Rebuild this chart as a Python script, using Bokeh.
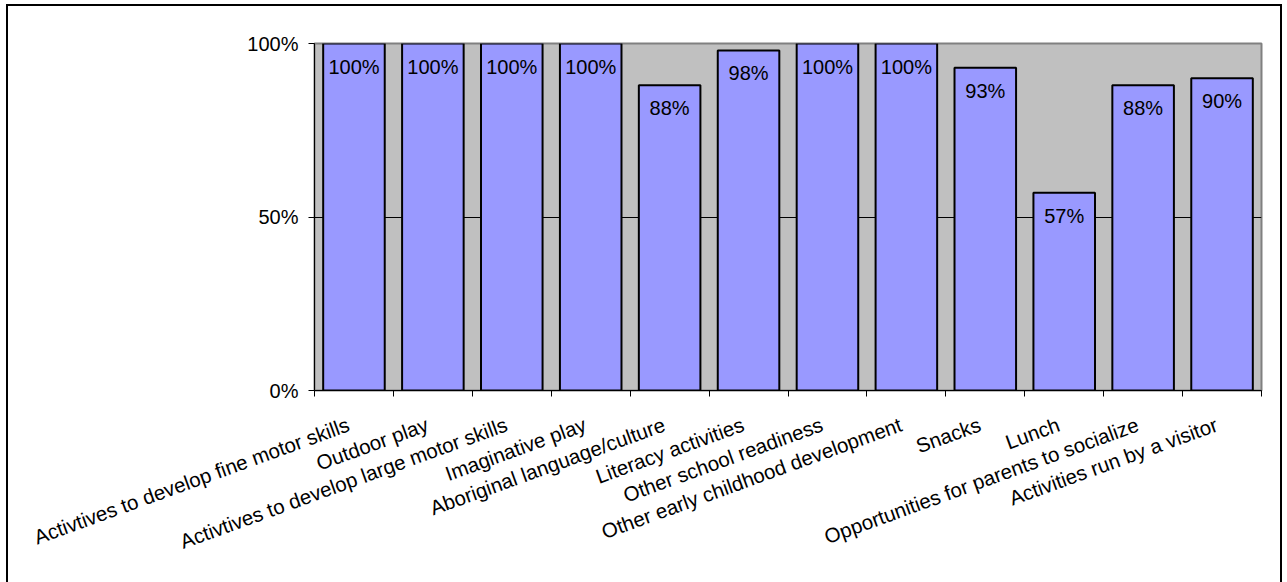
from bokeh.plotting import figure
from bokeh.layouts import column
from bokeh.models import FixedTicker, ColumnDataSource, Range1d
from bokeh.core.properties import value
from bokeh.embed import file_html
from bokeh.resources import INLINE
import math

# Share of playgroups offering each activity
categories = [
    "Activtives to develop fine motor skills",
    "Outdoor play",
    "Activtives to develop large motor skills",
    "Imaginative play",
    "Aboriginal language/culture",
    "Literacy activities",
    "Other school readiness",
    "Other early childhood development",
    "Snacks",
    "Lunch",
    "Opportunities for parents to socialize",
    "Activities run by a visitor",
]
percent = [100, 100, 100, 100, 88, 98, 100, 100, 93, 57, 88, 90]
y_ticks = [0, 50, 100]
y_tick_labels = ["0%", "50%", "100%"]

FONT = "Liberation Sans"
n = len(categories)
centers = [i + 0.5 for i in range(n)]
label_pos = [i + 0.43 for i in range(n)]

src = ColumnDataSource(dict(
    x=centers,
    top=[v / 100 for v in percent],
    label=[f"{v}%" for v in percent],
))

p = figure(
    width=1272, height=576,
    x_range=Range1d(0, n), y_range=Range1d(0, 1),
    output_backend="svg", toolbar_location=None,
    min_border_left=306, min_border_right=19,
    min_border_top=37, min_border_bottom=192,
)
p.background_fill_color = "#C0C0C0"
p.border_fill_color = "white"
p.outline_line_color = "#808080"
p.outline_line_width = 2

p.vbar(x="x", top="top", bottom=0, width=0.78, source=src,
       fill_color="#9999FF", line_color="black", line_width=2)

p.text(x="x", y="top", text="label", source=src,
       text_align="center", text_baseline="alphabetic", y_offset=23,
       text_font=value(FONT), text_font_size="20px", text_color="black")

# y axis
p.yaxis.ticker = FixedTicker(ticks=[t / 100 for t in y_ticks], minor_ticks=[])
p.yaxis.major_label_overrides = {t / 100: s for t, s in zip(y_ticks, y_tick_labels)}
p.yaxis.major_tick_out = 6
p.yaxis.major_tick_in = 0
p.yaxis.minor_tick_out = 0
p.yaxis.minor_tick_in = 0
p.yaxis.major_label_standoff = 10
p.yaxis.axis_line_color = "black"
p.yaxis.major_tick_line_color = "black"
p.yaxis.major_label_text_font_size = "20px"

# x axis: category names (unmarked major ticks), tick marks on boundaries
p.xaxis.ticker = FixedTicker(ticks=label_pos, minor_ticks=list(range(n + 1)))
p.xaxis.major_label_overrides = {c: name for c, name in zip(label_pos, categories)}
p.xaxis.major_tick_out = 0
p.xaxis.major_tick_in = 0
p.xaxis.minor_tick_out = 6
p.xaxis.minor_tick_in = 0
p.xaxis.minor_tick_line_color = "black"
p.xaxis.major_label_orientation = math.radians(20)
p.xaxis.major_label_standoff = 27
p.xaxis.axis_line_color = "black"
p.xaxis.major_label_text_font_size = "20.5px"

for ax in (p.xaxis, p.yaxis):
    ax.major_label_text_font = FONT
    ax.major_label_text_color = "black"

p.xgrid.visible = False
p.ygrid.ticker = FixedTicker(ticks=[0.5])
p.ygrid.grid_line_color = "black"
p.ygrid.grid_line_width = 1

# chart area frame (left, top and right edges)
page = column(p, margin=(4, 0, 0, 6), styles={
    "border-left": "2px solid black",
    "border-top": "2px solid black",
    "border-right": "2px solid black",
})

open("out.html", "w").write(file_html(page, INLINE))
